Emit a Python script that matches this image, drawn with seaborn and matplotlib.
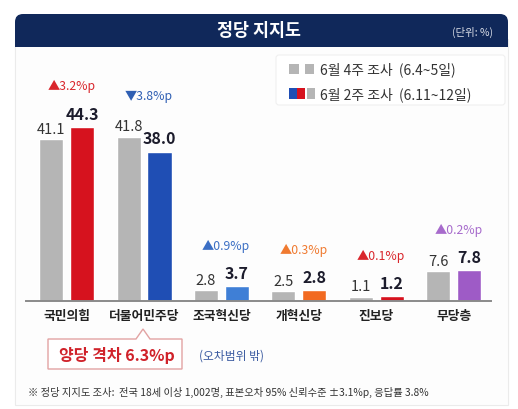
import numpy as np
import pandas as pd
import matplotlib
matplotlib.use("Agg")
import matplotlib.pyplot as plt
import seaborn as sns
from matplotlib.patches import FancyBboxPatch, Rectangle, Polygon

# ---------------- data ----------------
parties = ["국민의힘", "더불어민주당", "조국혁신당", "개혁신당", "진보당", "무당층"]
series_names = ["6월 4주 조사", "6월 2주 조사"]
june_wk4 = [41.1, 41.8, 2.8, 2.5, 1.1, 7.6]
june_wk2 = [44.3, 38.0, 3.7, 2.8, 1.2, 7.8]
changes = ["▲3.2%p", "▼3.8%p", "▲0.9%p", "▲0.3%p", "▲0.1%p", "▲0.2%p"]
legend_labels = ["6월 4주 조사  (6.4~5일)", "6월 2주 조사  (6.11~12일)"]
title = "정당 지지도"
unit = "(단위: %)"
gap_text = "양당 격차 6.3%p"
gap_note = "(오차범위 밖)"
footnote = "※ 정당 지지도 조사:  전국 18세 이상 1,002명, 표본오차 95% 신뢰수준 ±3.1%p, 응답률 3.8%"

# ---------------- styles ----------------
GRAY = "#b5b5b5"
party_colors = ["#d6121e", "#1f4eb4", "#3f7fd6", "#f26a21", "#d6121e", "#9e5bc6"]
change_colors = ["#d9262c", "#2f5fb3", "#3b6fc4", "#f07a30", "#d9262c", "#a76bcc"]
NAVY = "#10285a"

sns.set_theme(style="white")
plt.rcParams["font.family"] = ["Noto Sans CJK KR", "DejaVu Sans"]

W, H = 518, 410
fig = plt.figure(figsize=(W / 100, H / 100), dpi=100, facecolor="white")

# decoration layer in pixel coordinates
deco = fig.add_axes([0, 0, 1, 1], zorder=0)
deco.set_xlim(0, W)
deco.set_ylim(H, 0)
deco.axis("off")

# panel
deco.add_patch(Rectangle((15, 40), 493, 366, facecolor="#fdfdfd", edgecolor="#ebebeb", lw=0.8))
# title banner
deco.add_patch(FancyBboxPatch((15, 15), 493, 33, boxstyle="round,pad=0,rounding_size=8",
                              facecolor=NAVY, edgecolor="none"))
deco.add_patch(Rectangle((15, 32), 493, 16, facecolor=NAVY, edgecolor="none"))
deco.text(259, 31.5, title, color="white", fontsize=12.5, fontweight="bold", ha="center", va="center")
deco.text(493, 32, unit, color="#d8dce6", fontsize=7.5, ha="right", va="center")

# legend box
deco.add_patch(FancyBboxPatch((276, 56), 229, 50, boxstyle="round,pad=0,rounding_size=3",
                              facecolor="white", edgecolor="#f0f0f0", lw=0.8))
deco.add_patch(Rectangle((289, 65), 10, 10, facecolor=GRAY, edgecolor="none"))
deco.add_patch(Rectangle((305, 65), 9, 10, facecolor=GRAY, edgecolor="none"))
deco.add_patch(Rectangle((289, 89), 8, 11, facecolor="#1f4eb4", edgecolor="none"))
deco.add_patch(Rectangle((297, 89), 8, 11, facecolor="#d6121e", edgecolor="none"))
deco.add_patch(Rectangle((307, 89), 8, 11, facecolor=GRAY, edgecolor="none"))
deco.text(320, 70, legend_labels[0], fontsize=10, color="#333333", ha="left", va="center")
deco.text(320, 94.5, legend_labels[1], fontsize=10, color="#333333", ha="left", va="center")

# gap callout
callout = Polygon([(48, 340), (136, 340), (143, 330), (150, 340), (182, 340),
                   (182, 370), (48, 370)], closed=True,
                  facecolor="white", edgecolor="#e2a3a3", lw=1.0)
deco.add_patch(callout)
deco.text(117, 355.5, gap_text, color="#d0222a", fontsize=11.5, fontweight="bold",
          ha="center", va="center")
deco.text(199, 356.5, gap_note, color="#3a5aa0", fontsize=8.5, ha="left", va="center")
deco.text(28, 392, footnote, color="#333333", fontsize=7.4, ha="left", va="center")

# ---------------- main chart ----------------
ax_left, ax_right = 26, 491
ax_bottom, ax_top = 302, 110
ax = fig.add_axes([ax_left / W, (H - ax_bottom) / H, (ax_right - ax_left) / W,
                   (ax_bottom - ax_top) / H], zorder=2)
ax.patch.set_alpha(0)

df = pd.DataFrame({
    "party": parties * 2,
    "series": [series_names[0]] * len(parties) + [series_names[1]] * len(parties),
    "value": june_wk4 + june_wk2,
})
sns.barplot(data=df, x="party", y="value", hue="series", order=parties,
            hue_order=series_names, palette=[GRAY, GRAY], width=0.8, gap=0.225,
            legend=False, ax=ax, saturation=1, errorbar=None)

for patch, col in zip(ax.containers[1].patches, party_colors):
    patch.set_facecolor(col)

ax.set_xlim(-0.524, 5.481)
ax.set_ylim(0, (ax_bottom - ax_top) / 3.93)

# value labels
for patch, v in zip(ax.containers[0].patches, june_wk4):
    ax.annotate(f"{v:.1f}", (patch.get_x() + patch.get_width() / 2, patch.get_height()),
                xytext=(0, 7.5), textcoords="offset points", ha="center", va="center",
                fontsize=10.5, color="#333333")
for patch, v in zip(ax.containers[1].patches, june_wk2):
    ax.annotate(f"{v:.1f}", (patch.get_x() + patch.get_width() / 2, patch.get_height()),
                xytext=(0, 9.5), textcoords="offset points", ha="center", va="center",
                fontsize=11.5, fontweight="bold", color="#1c1c2c")

# change labels
for i, (txt, col) in enumerate(zip(changes, change_colors)):
    top = max(june_wk4[i], june_wk2[i])
    ax.annotate(txt, (i + 0.06, top), xytext=(0, 29.5), textcoords="offset points",
                ha="center", va="center", fontsize=8.8, color=col)

for s in ["top", "right", "left"]:
    ax.spines[s].set_visible(False)
ax.spines["bottom"].set_color("#8a8a8a")
ax.spines["bottom"].set_linewidth(1.4)
ax.set_yticks([])
ax.set_xlabel("")
ax.set_ylabel("")
ax.tick_params(axis="x", length=0, pad=6, labelsize=9.2, labelcolor="#222222")
for lab in ax.get_xticklabels():
    lab.set_fontweight("bold")

fig.savefig("out.png", dpi=100, facecolor="white")
